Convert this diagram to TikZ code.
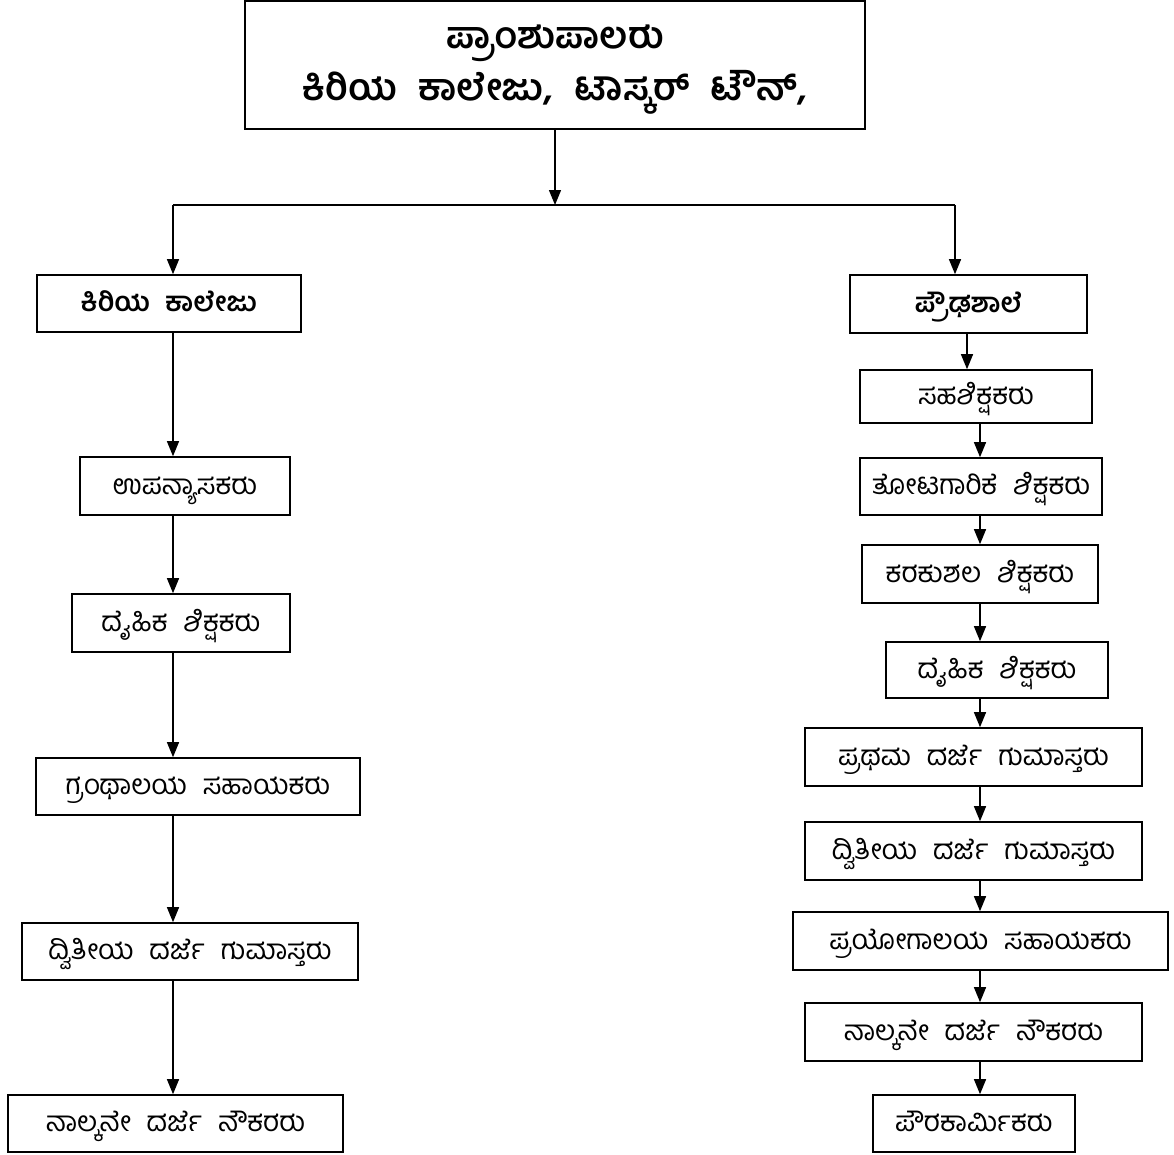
\documentclass[tikz,border=0pt]{standalone}
\usepackage{fontspec}
\newfontfamily\kn[Script=Kannada,WordSpace=2.3]{Hind Mysuru}
\usetikzlibrary{arrows.meta}

\begin{document}
\begin{tikzpicture}[x=1pt,y=-1pt,
  box/.style={draw,line width=1.6pt,inner sep=0pt,text height=20pt,text depth=4pt,
    font=\kn\fontsize{28}{34}\selectfont},
  head/.style={box,font=\kn\bfseries\fontsize{27}{32}\selectfont},
  arr/.style={line width=1.3pt,-{Triangle[width=12pt,length=15pt]}}]
\useasboundingbox (0,0) rectangle (1174,1154);

% principal
\node[draw,line width=1.6pt,minimum width=620,minimum height=128] (prin) at (555,65) {};
\node[inner sep=0pt,align=center,font=\kn\bfseries\fontsize{37}{52}\selectfont]
  (title) at (555,70) {ಪ್ರಾಂಶುಪಾಲರು\\ಕಿರಿಯ ಕಾಲೇಜು, ಟಾಸ್ಕರ್ ಟೌನ್,};

\coordinate (split) at (555,205);
\coordinate (lx) at (173,0);  % left column
\coordinate (rx) at (955,0);  % right branch
\coordinate (px) at (967,0);
\coordinate (qx) at (980,0);  % right column

% branches
\node[head,minimum width=264,minimum height=57] (kc) at (169,303.5) {ಕಿರಿಯ ಕಾಲೇಜು};
\node[head,minimum width=237,minimum height=58] (ps) at (968.5,304) {ಪ್ರೌಢಶಾಲೆ};

% left column
\node[box,minimum width=210,minimum height=58] (upa) at (185,486) {ಉಪನ್ಯಾಸಕರು};
\node[box,minimum width=218,minimum height=58] (dai1) at (181,623) {ದೈಹಿಕ ಶಿಕ್ಷಕರು};
\node[box,minimum width=324,minimum height=57] (gra) at (198,786.5) {ಗ್ರಂಥಾಲಯ ಸಹಾಯಕರು};
\node[box,minimum width=336,minimum height=57] (dvi1) at (190,951.5) {ದ್ವಿತೀಯ ದರ್ಜೆ ಗುಮಾಸ್ತರು};
\node[box,minimum width=335,minimum height=57] (nal1) at (175.5,1123.5) {ನಾಲ್ಕನೇ ದರ್ಜೆ ನೌಕರರು};

% right column
\node[box,minimum width=232,minimum height=53] (sah) at (976,396.5) {ಸಹಶಿಕ್ಷಕರು};
\node[box,minimum width=242,minimum height=57] (tot) at (981,486.5) {ತೋಟಗಾರಿಕೆ ಶಿಕ್ಷಕರು};
\node[box,minimum width=236,minimum height=58] (kar) at (980,574) {ಕರಕುಶಲ ಶಿಕ್ಷಕರು};
\node[box,minimum width=222,minimum height=56] (dai2) at (997,670) {ದೈಹಿಕ ಶಿಕ್ಷಕರು};
\node[box,minimum width=337,minimum height=58] (pra) at (973.5,757) {ಪ್ರಥಮ ದರ್ಜೆ ಗುಮಾಸ್ತರು};
\node[box,minimum width=337,minimum height=58] (dvi2) at (973.5,851) {ದ್ವಿತೀಯ ದರ್ಜೆ ಗುಮಾಸ್ತರು};
\node[box,minimum width=375,minimum height=58] (pray) at (980.5,941) {ಪ್ರಯೋಗಾಲಯ ಸಹಾಯಕರು};
\node[box,minimum width=337,minimum height=58] (nal2) at (973.5,1032) {ನಾಲ್ಕನೇ ದರ್ಜೆ ನೌಕರರು};
\node[box,minimum width=202,minimum height=57] (pau) at (974,1123.5) {ಪೌರಕಾರ್ಮಿಕರು};

% connectors
\draw[arr] (prin.south) -- (split);
\draw[line width=1.3pt] (lx |- split) -- (rx |- split);
\draw[arr] (lx |- split) -- (lx |- kc.north);
\draw[arr] (rx |- split) -- (rx |- ps.north);
\foreach \a/\b in {kc/upa,upa/dai1,dai1/gra,gra/dvi1,dvi1/nal1}
  \draw[arr] (lx |- \a.south) -- (lx |- \b.north);
\draw[arr] (px |- ps.south) -- (px |- sah.north);
\foreach \a/\b in {sah/tot,tot/kar,kar/dai2,dai2/pra,pra/dvi2,dvi2/pray,pray/nal2,nal2/pau}
  \draw[arr] (qx |- \a.south) -- (qx |- \b.north);
\end{tikzpicture}
\end{document}
